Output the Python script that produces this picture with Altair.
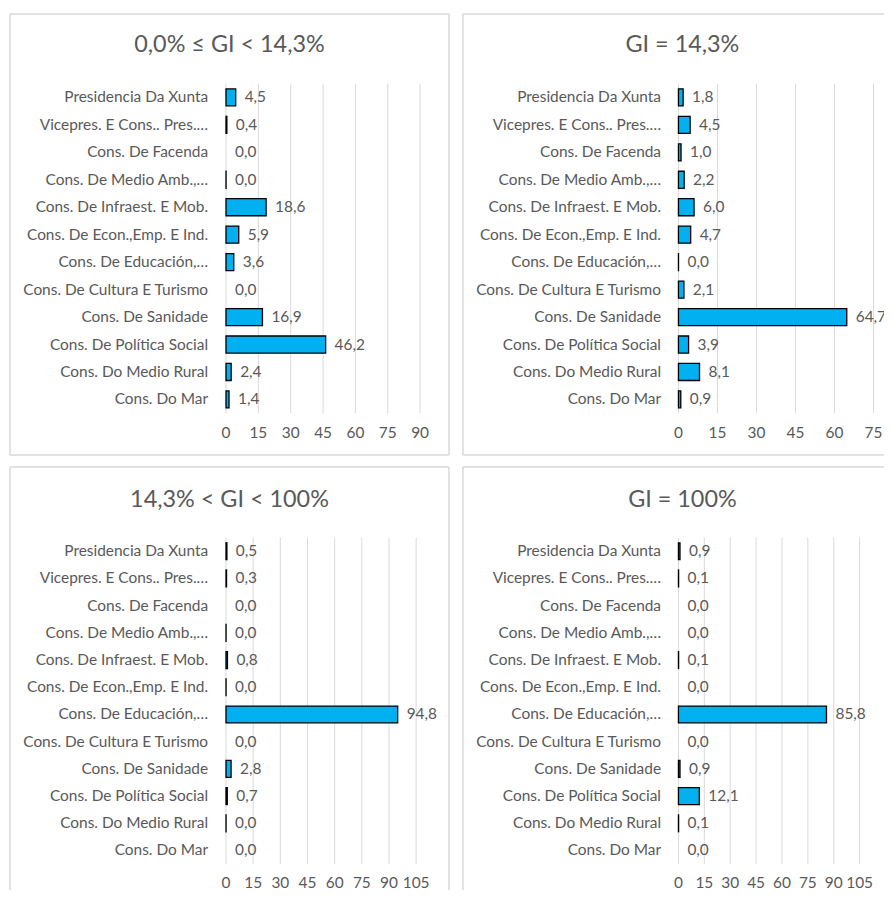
import altair as alt
import pandas as pd

categories = [
    "Presidencia Da Xunta",
    "Vicepres. E Cons.. Pres.…",
    "Cons. De Facenda",
    "Cons. De Medio Amb.,…",
    "Cons. De Infraest. E Mob.",
    "Cons. De Econ.,Emp. E Ind.",
    "Cons. De Educación,…",
    "Cons. De Cultura E Turismo",
    "Cons. De Sanidade",
    "Cons. De Política Social",
    "Cons. Do Medio Rural",
    "Cons. Do Mar",
]

titles = ["0,0% ≤ GI < 14,3%", "GI = 14,3%", "14,3% < GI < 100%", "GI = 100%"]

values_1 = [4.5, 0.4, 0.0, 0.03, 18.6, 5.9, 3.6, 0.0, 16.9, 46.2, 2.4, 1.4]
values_2 = [1.8, 4.5, 1.0, 2.2, 6.0, 4.7, 0.03, 2.1, 64.7, 3.9, 8.1, 0.9]
values_3 = [0.5, 0.3, 0.0, 0.03, 0.8, 0.03, 94.8, 0.0, 2.8, 0.7, 0.03, 0.0]
values_4 = [0.9, 0.1, 0.0, 0.0, 0.1, 0.0, 85.8, 0.0, 0.9, 12.1, 0.1, 0.0]

ticks_1 = [0, 15, 30, 45, 60, 75, 90]
ticks_2 = [0, 15, 30, 45, 60, 75]
ticks_3 = [0, 15, 30, 45, 60, 75, 90, 105]
ticks_4 = [0, 15, 30, 45, 60, 75, 90, 105]

FONT = "Lato"
TEXT = "#595959"
GRID = "#d9d9d9"
BORDER = "#d9d9d9"
BLUE = "#00B0F0"
LABEL_SIZE = 15.5


def panel(title, values, ticks, xr, w, h, sides, top, bottom, tick_y, title_y):
    df = pd.DataFrame({"cat": categories, "value": values})
    tdf = pd.DataFrame({"tick": ticks, "tlabel": [str(t) for t in ticks]})
    xscale = alt.Scale(domain=[0, ticks[-1]], range=list(xr), nice=False, zero=True)
    yscale = alt.Scale(domain=categories, range=[top, bottom],
                       paddingInner=0.38, paddingOuter=0.19)

    grid = alt.Chart(tdf).mark_rule(color=GRID, strokeWidth=1).encode(
        x=alt.X("tick:Q", scale=xscale, axis=None),
        y=alt.value(top),
        y2=alt.value(bottom),
    )

    tick_labels = alt.Chart(tdf).mark_text(
        font=FONT, fontSize=LABEL_SIZE, color=TEXT, align="center", baseline="middle"
    ).encode(
        x=alt.X("tick:Q", scale=xscale, axis=None),
        y=alt.value(tick_y),
        text="tlabel:N",
    )

    cat_labels = alt.Chart(df).mark_text(
        font=FONT, fontSize=LABEL_SIZE, color=TEXT, align="right", baseline="middle"
    ).encode(
        x=alt.value(199),
        y=alt.Y("cat:N", scale=yscale, axis=None, sort=categories),
        text="cat:N",
    )

    bars = alt.Chart(df).mark_bar(color=BLUE, stroke="black", strokeWidth=1.3).encode(
        x=alt.X("value:Q", scale=xscale, axis=None),
        y=alt.Y("cat:N", scale=yscale, axis=None, sort=categories),
        strokeOpacity=alt.when(alt.datum.value == 0).then(alt.value(0)).otherwise(alt.value(1)),
    )

    labels = alt.Chart(df).transform_calculate(
        label="replace(format(datum.value, '.1f'), '.', ',')"
    ).mark_text(
        align="left", baseline="middle", dx=9, font=FONT, fontSize=LABEL_SIZE,
        color=TEXT, clip=True
    ).encode(
        x=alt.X("value:Q", scale=xscale, axis=None),
        y=alt.Y("cat:N", scale=yscale, axis=None, sort=categories),
        text="label:N",
    )

    head = alt.Chart(pd.DataFrame({"t": [title]})).mark_text(
        font=FONT, fontSize=23.5, color=TEXT, align="center", baseline="middle"
    ).encode(
        text="t:N",
        x=alt.value(220.5),
        y=alt.value(title_y),
    )

    layers = [grid, bars, labels, cat_labels, tick_labels, head]
    one = pd.DataFrame({"k": [0]})
    edge = {
        "top": dict(x=alt.value(0), x2=alt.value(w), y=alt.value(0)),
        "bottom": dict(x=alt.value(0), x2=alt.value(w), y=alt.value(h)),
        "left": dict(x=alt.value(0), y=alt.value(0), y2=alt.value(h)),
        "right": dict(x=alt.value(w), y=alt.value(0), y2=alt.value(h)),
    }
    for s in sides:
        layers.append(
            alt.Chart(one).mark_rule(color=BORDER, strokeWidth=1.5).encode(**edge[s])
        )

    return alt.layer(*layers).properties(width=w, height=h)


row1 = dict(h=443, top=70, bottom=401, tick_y=421, title_y=31)
row2 = dict(h=425, top=71, bottom=399, tick_y=418, title_y=33)

p1 = panel(titles[0], values_1, ticks_1, (217, 412), 441,
           sides=["top", "left", "right", "bottom"], **row1)
p2 = panel(titles[1], values_2, ticks_2, (216.5, 412.5), 423,
           sides=["top", "left", "bottom"], **row1)
p3 = panel(titles[2], values_3, ticks_3, (217, 408), 441,
           sides=["top", "left", "right"], **row2)
p4 = panel(titles[3], values_4, ticks_4, (216.5, 398.5), 423,
           sides=["top", "left"], **row2)

chart = alt.vconcat(
    alt.hconcat(p1, p2, spacing=12),
    alt.hconcat(p3, p4, spacing=12),
    spacing=10,
).properties(
    padding={"left": 1, "top": 3, "right": 0, "bottom": 0},
    background="white",
).configure_view(
    strokeWidth=0
)

chart.save("out.html", embed_options={"renderer": "svg", "actions": False})
